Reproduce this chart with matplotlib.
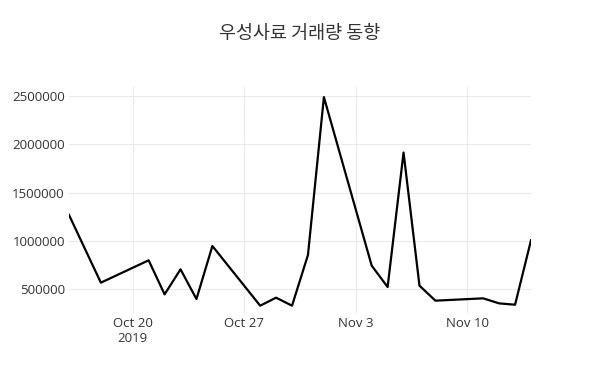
import matplotlib
matplotlib.use("Agg")
import matplotlib.pyplot as plt
import matplotlib.dates as mdates
import numpy as np
import datetime as dt

plt.rcParams['font.family'] = ['Open Sans', 'Noto Sans CJK KR', 'DejaVu Sans']

# 거래일과 거래량
dates = ["2019-10-16", "2019-10-18", "2019-10-21", "2019-10-22", "2019-10-23",
         "2019-10-24", "2019-10-25", "2019-10-28", "2019-10-29", "2019-10-30",
         "2019-10-31", "2019-11-01", "2019-11-04", "2019-11-05", "2019-11-06",
         "2019-11-07", "2019-11-08", "2019-11-11", "2019-11-12", "2019-11-13",
         "2019-11-14"]
volume = [1269000, 569000, 800000, 448000, 707000,
          400000, 948000, 331000, 414000, 331000,
          855000, 2487000, 745000, 524000, 1914000,
          538000, 383000, 407000, 355000, 341000,
          1007000]

tick_dates = ["2019-10-20", "2019-10-27", "2019-11-03", "2019-11-10"]
tick_labels = ["Oct 20\n2019", "Oct 27", "Nov 3", "Nov 10"]
y_ticks = [500000, 1000000, 1500000, 2000000, 2500000]

x = [dt.datetime.strptime(d, "%Y-%m-%d") for d in dates]
xt = [dt.datetime.strptime(d, "%Y-%m-%d") for d in tick_dates]

fig = plt.figure(figsize=(6, 3.86), dpi=100)
ax = fig.add_axes([0.115, 0.189, 0.77, 0.586])

ax.plot(x, volume, color="black", lw=1.6)

ax.set_xlim(x[0], x[-1])
ax.set_ylim(255000, 2593000)
ax.set_xticks(xt)
ax.set_xticklabels(tick_labels, linespacing=1.2)
ax.set_yticks(y_ticks)
ax.set_yticklabels([str(v) for v in y_ticks])

ax.grid(True, color="#ebebeb", lw=0.8)
for s in ax.spines.values():
    s.set_visible(False)
ax.tick_params(length=0, labelsize=9.5, colors="#333333", pad=3)

fig.suptitle("우성사료 거래량 동향", x=0.5, y=0.935, fontsize=13.3,
             color="#333333", family=['Noto Sans CJK KR', 'DejaVu Sans'])

fig.savefig("out.png", dpi=100)
